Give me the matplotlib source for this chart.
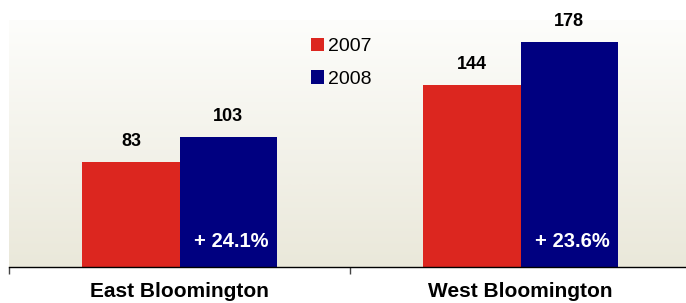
import numpy as np
import matplotlib
matplotlib.use("Agg")
import matplotlib.pyplot as plt

plt.rcParams['font.family'] = ['Liberation Sans', 'DejaVu Sans']

regions = ["East Bloomington", "West Bloomington"]
years = ["2007", "2008"]
v2007 = [83, 144]
v2008 = [103, 178]
growth = ["+ 24.1%", "+ 23.6%"]

red = "#DC261F"
navy = "#000080"

fig = plt.figure(figsize=(6.86, 3.03), dpi=100)
ax = fig.add_axes([9/686, 36/303, 682/686, 247/303])

x = np.arange(len(regions))
w = 0.285

# background gradient, white at top -> beige at bottom
grad = np.linspace(0, 1, 256).reshape(-1, 1)
top = np.array([253, 253, 251]) / 255
bot = np.array([234, 232, 218]) / 255
img = top + (bot - top) * grad[..., None]
ax.imshow(img, extent=[0, 1, 0, 1], transform=ax.transAxes, aspect='auto', zorder=0)

b1 = ax.bar(x - w, v2007, w, align='edge', color=red, label=years[0], zorder=2)
b2 = ax.bar(x, v2008, w, align='edge', color=navy, label=years[1], zorder=2)

for bars in (b1, b2):
    for r in bars:
        ax.annotate(f"{int(r.get_height())}", (r.get_x() + r.get_width()/2, r.get_height()),
                    xytext=(0, 11.5), textcoords='offset points', ha='center', va='baseline',
                    fontsize=13, fontweight='bold', color='black')

for r, g in zip(b2, growth):
    ax.annotate(g, (r.get_x() + r.get_width()/2 + 0.01, 0), xytext=(0, 14.5),
                textcoords='offset points', ha='center', va='baseline',
                fontsize=14.5, fontweight='bold', color='white', zorder=3)

ax.set_xlim(-0.5, 1.5)
ax.set_ylim(0, 195)

ax.set_xticks([-0.5, 0.5, 1.5])
ax.set_xticklabels([])
ax.set_xticks(x, minor=True)
ax.set_xticklabels(regions, minor=True, fontsize=15, fontweight='bold')
ax.tick_params(axis='x', which='major', length=5, width=1, color='#444444')
ax.tick_params(axis='x', which='minor', length=0, pad=11)
ax.set_yticks([])

for s in ['top', 'right', 'left']:
    ax.spines[s].set_visible(False)
ax.spines['bottom'].set_linewidth(1)

ax.legend(loc='upper left', bbox_to_anchor=(292/682, 1 - 8/247), frameon=False,
          fontsize=14, handlelength=0.68, handleheight=0.68, handletextpad=0.2,
          labelspacing=0.78, borderpad=0)

fig.savefig("out.png", dpi=100)
